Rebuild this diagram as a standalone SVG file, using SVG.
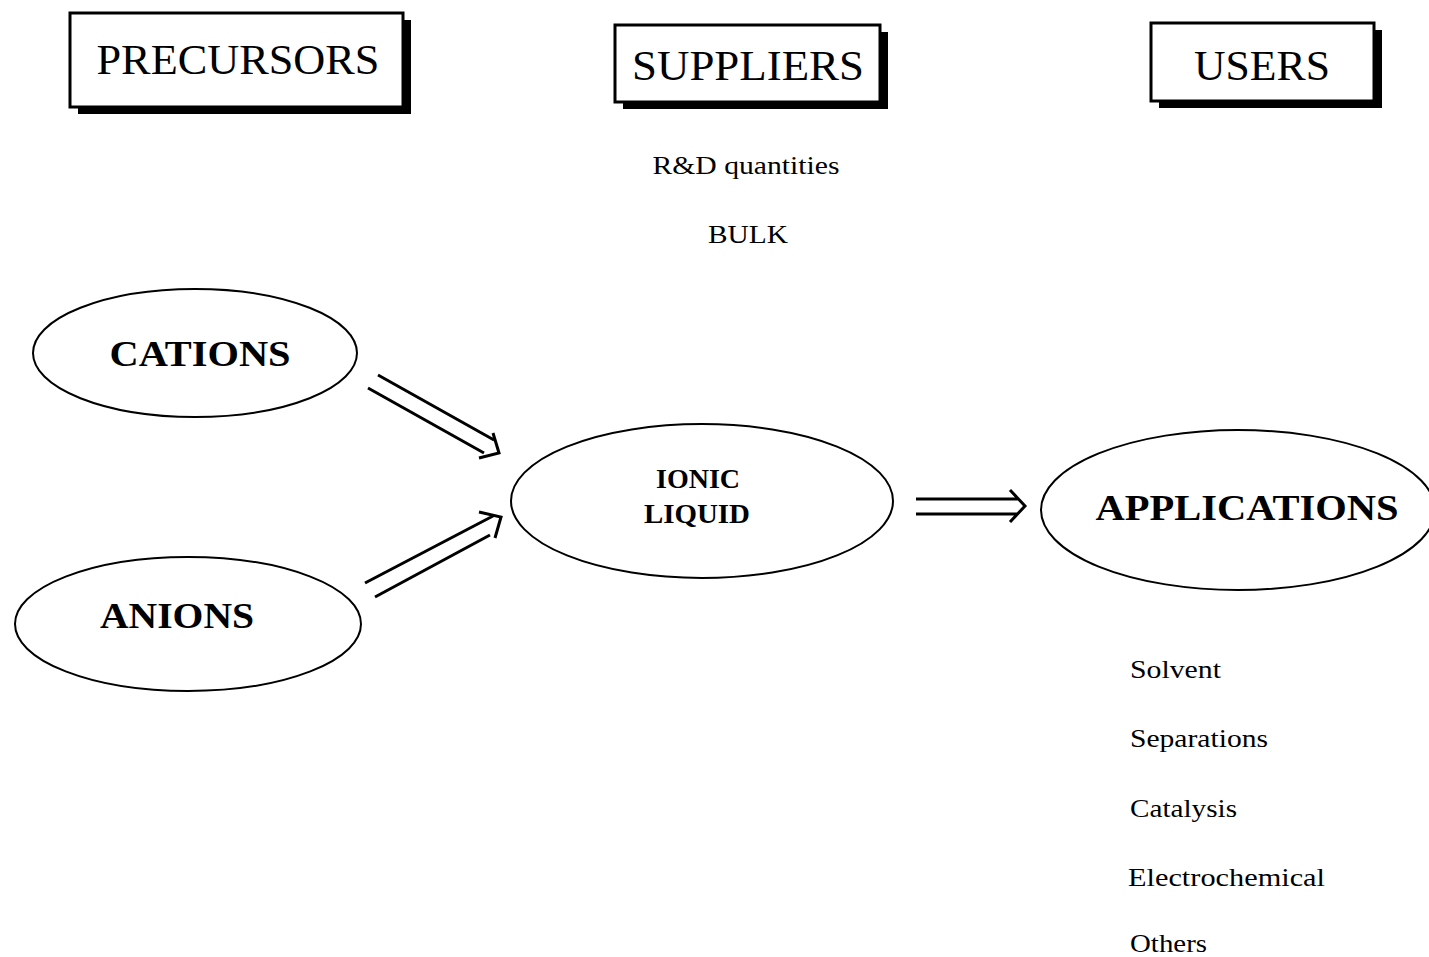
<svg xmlns="http://www.w3.org/2000/svg" width="1429" height="957" viewBox="0 0 1429 957">
<style>
.shadow{fill:#000}
.box{fill:#fff;stroke:#000;stroke-width:3}
.hdr{font-family:"Liberation Serif",serif;font-size:42px;fill:#000;text-anchor:middle}
.ell{fill:#fff;stroke:#000;stroke-width:2}
.bold{font-family:"Liberation Serif",serif;font-weight:bold;fill:#000;text-anchor:middle}
.txt{font-family:"Liberation Serif",serif;font-size:26px;fill:#000}
.arr{fill:none;stroke:#000;stroke-width:3}
</style>
<rect width="1429" height="957" fill="#fff"/>
<g id="precursors">
<rect class="shadow" x="78" y="20" width="333" height="94"/>
<rect class="box" x="70" y="13" width="333" height="94"/>
<text class="hdr" x="238" y="74" textLength="283" lengthAdjust="spacingAndGlyphs">PRECURSORS</text>
</g>
<g id="suppliers">
<rect class="shadow" x="623" y="32" width="265" height="77"/>
<rect class="box" x="615" y="25" width="265" height="77"/>
<text class="hdr" x="748" y="80" textLength="232" lengthAdjust="spacingAndGlyphs">SUPPLIERS</text>
<text class="txt" x="746" y="174" text-anchor="middle" textLength="187" lengthAdjust="spacingAndGlyphs">R&amp;D quantities</text>
<text class="txt" x="748" y="243" text-anchor="middle" textLength="80" lengthAdjust="spacingAndGlyphs">BULK</text>
</g>
<g id="users">
<rect class="shadow" x="1159" y="30" width="223" height="78"/>
<rect class="box" x="1151" y="23" width="223" height="78"/>
<text class="hdr" x="1262" y="80" textLength="136" lengthAdjust="spacingAndGlyphs">USERS</text>
</g>
<g id="cations">
<ellipse class="ell" cx="195" cy="353" rx="162" ry="64"/>
<text class="bold" x="200" y="366" font-size="36" textLength="181" lengthAdjust="spacingAndGlyphs">CATIONS</text>
</g>
<g id="anions">
<ellipse class="ell" cx="188" cy="624" rx="173" ry="67"/>
<text class="bold" x="177" y="628" font-size="36" textLength="154" lengthAdjust="spacingAndGlyphs">ANIONS</text>
</g>
<g id="ionic-liquid">
<ellipse class="ell" cx="702" cy="501" rx="191" ry="77"/>
<text class="bold" x="698" y="488" font-size="28" textLength="84" lengthAdjust="spacingAndGlyphs">IONIC</text>
<text class="bold" x="697" y="523" font-size="28" textLength="106" lengthAdjust="spacingAndGlyphs">LIQUID</text>
</g>
<g id="applications">
<ellipse class="ell" cx="1238" cy="510" rx="197" ry="80"/>
<text class="bold" x="1247" y="520" font-size="36" textLength="303" lengthAdjust="spacingAndGlyphs">APPLICATIONS</text>
</g>
<g id="uses">
<text class="txt" x="1130" y="678" textLength="91" lengthAdjust="spacingAndGlyphs">Solvent</text>
<text class="txt" x="1130" y="747" textLength="138" lengthAdjust="spacingAndGlyphs">Separations</text>
<text class="txt" x="1130" y="817" textLength="107" lengthAdjust="spacingAndGlyphs">Catalysis</text>
<text class="txt" x="1128" y="886" textLength="197" lengthAdjust="spacingAndGlyphs">Electrochemical</text>
<text class="txt" x="1130" y="952" textLength="77" lengthAdjust="spacingAndGlyphs">Others</text>
</g>
<g id="connectors">
<path class="arr" d="M378 375 L494 440 M368 388 L484 453 M493 433 L499 453 L479 458"/>
<path class="arr" d="M365 583 L493 516 M375 597 L490 535 M479 512 L501 517 L495 538"/>
<path class="arr" d="M916 499 L1018 499 M916 514 L1018 514 M1010 490 L1025 506 L1010 522"/>
</g>
</svg>
